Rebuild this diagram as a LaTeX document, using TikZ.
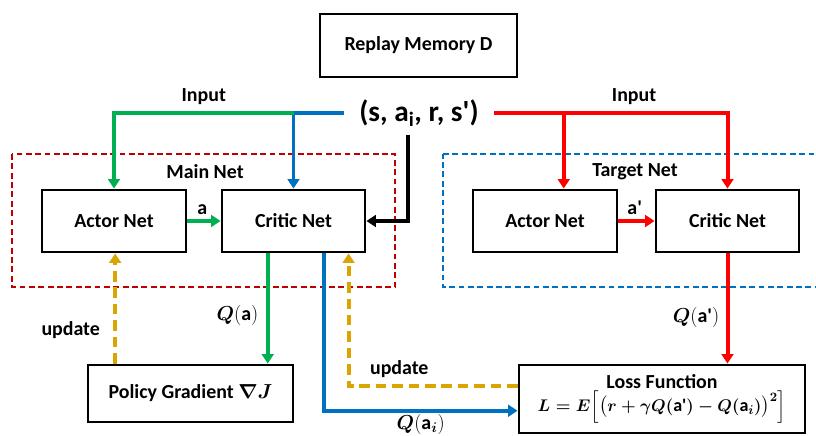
\documentclass[tikz,border=0pt]{standalone}
\usepackage{amsmath,amssymb}
\usepackage{fontspec}
\setmainfont{Carlito}
\usetikzlibrary{arrows.meta,positioning}

\definecolor{mygreen}{RGB}{0,176,80}
\definecolor{myblue}{RGB}{0,112,192}
\definecolor{myred}{RGB}{255,0,0}
\definecolor{mydarkred}{RGB}{192,0,0}
\definecolor{mygold}{RGB}{218,165,0}

\newcommand{\aprime}{\textbf{a\textquotesingle}}
\newcommand{\lossformula}{{\fontsize{15.4}{18}\selectfont$\boldsymbol{L=E\Bigl[\bigl(r+\gamma Q(\aprime)-Q(\textbf{a}_{i})\bigr)^{2}\Bigr]}$}}

\tikzset{
  txt/.style={font=\fontsize{17}{20}\selectfont\bfseries},
  netbox/.style={draw, line width=2.5pt, txt, minimum width=4.32cm, minimum height=1.86cm},
  arr/.style={line width=3.4pt, -{Triangle[width=10pt,length=8pt]}},
  updarr/.style={arr, mygold, dash pattern=on 9pt off 5pt},
  frame/.style={line width=1.7pt, dash pattern=on 5pt off 3pt}
}

\begin{document}
\begin{tikzpicture}[x=0.03cm,y=-0.03cm]
        \useasboundingbox (0,0) rectangle (816,435);
        % replay memory and sampled tuple
        \node[netbox, minimum width=5.91cm, minimum height=1.89cm] (replay) at (418.5,45.5) {Replay Memory D};
        \node[font=\fontsize{25}{28}\selectfont\bfseries] (tuple) at (419,113) {(s, a\textsubscript{i}, r, s\textquotesingle)};
        \coordinate (tin) at (344,113);
        \coordinate (tout) at (494,113);
        \coordinate (tbot) at (408,135);
        % main net
        \draw[mydarkred, frame] (12,154) rectangle (395,287);
        \node[txt] (mainlbl) at (205,172) {Main Net};
        \node[netbox] (mactor) at (114,221) {Actor Net};
        \node[netbox, minimum width=4.29cm] (mcritic) at (293.5,221) {Critic Net};
        % target net
        \draw[myblue, frame] (443,154) -- (830,154) (830,287) -- (443,287) -- (443,154);
        \node[txt] (targetlbl) at (635,172) {Target Net};
        \node[netbox] (tactor) at (545,221) {Actor Net};
        \node[netbox, minimum width=4.29cm] (tcritic) at (727.5,221) {Critic Net};
        % bottom boxes
        \node[netbox, minimum width=6.15cm, minimum height=1.71cm] (pg) at (190.5,393.5) {Policy Gradient $\boldsymbol{\nabla J}$};
        \node[netbox, minimum width=8.58cm, minimum height=2.04cm, inner sep=1pt, align=center] (loss) at (662,399) {Loss Function\\[-1pt] \lossformula};

        % inputs
        \draw[line width=3.4pt, myblue, -{Triangle[width=10pt,length=8pt]}] (tin) -| (mcritic.north);
        \draw[arr, mygreen] (mcritic.north |- tin) -- (mactor.north |- tin) node[pos=.5, above=2pt, black, txt]{Input} -- (mactor.north);
        \draw[arr, myred] (tout) -- (tcritic.north |- tout) node[pos=.6, above=2pt, black, txt]{Input} -- (tcritic.north);
        \draw[arr, myred] ([xshift=16pt]tactor.north |- tout) -- ([xshift=16pt]tactor.north);
        \draw[arr, black] (tbot) |- (mcritic.east);
        % actions
        \draw[arr, mygreen] (mactor.east) -- (mcritic.west) node[pos=.45, above, black, txt]{a};
        \draw[arr, myred] (tactor.east) -- (tcritic.west) node[pos=.45, above, black, txt]{a\textquotesingle};
        % outputs
        \draw[arr, mygreen] ([xshift=-22pt]mcritic.south) -- ([xshift=-22pt]mcritic.south |- pg.north) node[pos=.56, left=3pt, black, txt]{$\boldsymbol{Q}(\textbf{a})$};
        \draw[arr, myblue] ([xshift=26pt]mcritic.south) |- ([yshift=-10pt]loss.west) node[pos=.75, below=0pt, inner sep=1pt, black, txt]{$\boldsymbol{Q}(\textbf{a}_{\boldsymbol{i}})$};
        \draw[arr, myred] (tcritic.south) -- (tcritic.south |- loss.north) node[pos=.58, left=2pt, black, txt]{$\boldsymbol{Q}(\aprime)$};
        % updates
        \draw[updarr] ([xshift=1pt]mactor.south |- pg.north) -- ([xshift=1pt]mactor.south) node[pos=.3, left=8pt, black, txt]{update};
        \draw[updarr] ([yshift=11pt]loss.west) -| ([xshift=47pt]mcritic.south) node[pos=.35, above=2pt, black, txt]{update};
\end{tikzpicture}
\end{document}
